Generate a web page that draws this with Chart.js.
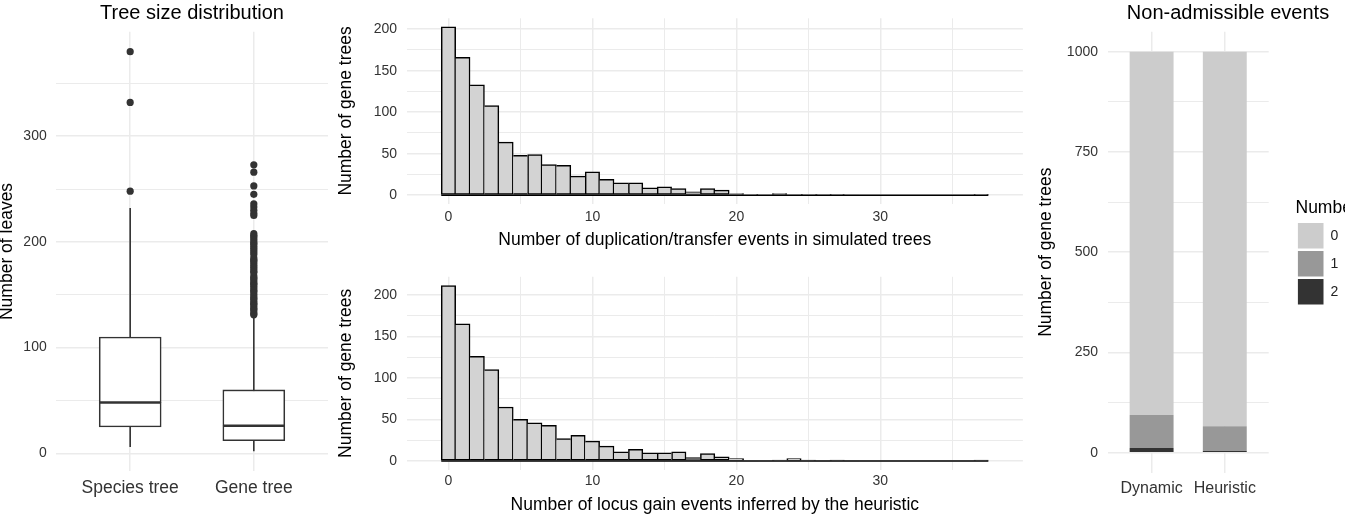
<!DOCTYPE html>
<html>
<head>
<meta charset="utf-8">
<script src="https://cdn.jsdelivr.net/npm/chart.js@4.4.1/dist/chart.umd.min.js"></script>
<style>
html, body { margin: 0; padding: 0; background: #fff; overflow: hidden; width: 1356px; height: 516px; }
.panel { position: absolute; top: 0; }
</style>
</head>
<body>
<div class="panel" style="left:0;width:335px;height:516px"><canvas id="cBox"></canvas></div>
<div class="panel" style="left:336px;width:690px;height:258px"><canvas id="cDup"></canvas></div>
<div class="panel" style="left:336px;top:258px;width:690px;height:258px"><canvas id="cGain"></canvas></div>
<div class="panel" style="left:1030px;width:396px;height:516px"><canvas id="cNa"></canvas></div>
<script>
// tree size distribution, box plot stats
var boxGroups = ['Species tree', 'Gene tree'];
var boxLow = [6, 2];
var boxQ1 = [25, 12];
var boxMed = [48, 26];
var boxQ3 = [110, 60];
var boxHigh = [232, 130];
var speciesOutliers = [248, 332, 380];
var geneOutliers = [131, 132, 134, 136, 137, 139, 141, 142, 144, 146, 147, 149, 151, 153, 154, 156, 158, 160,
  161, 163, 165, 166, 168, 171, 172, 174, 176, 178, 180, 182, 183, 185, 188, 190, 192, 194, 196, 198, 199,
  201, 203, 205, 206, 208, 225, 227, 230, 233, 236, 245, 253, 266, 273];

// histograms, one bin per event count
var eventBins = [0, 1, 2, 3, 4, 5, 6, 7, 8, 9, 10, 11, 12, 13, 14, 15, 16, 17, 18, 19, 20, 21, 22, 23, 24, 25,
  26, 27, 28, 29, 30, 31, 32, 33, 34, 35, 36, 37];
var dupTransferCounts = [203, 166, 133, 108, 64, 48, 49, 37, 36, 23, 28, 19, 15, 15, 9, 10, 8, 4, 8, 6, 2, 1, 0,
  2, 1, 1, 1, 1, 0, 0, 0, 0, 0, 0, 0, 0, 0, 1];
var locusGainCounts = [211, 165, 126, 110, 65, 50, 46, 43, 27, 31, 24, 18, 11, 14, 10, 10, 11, 4, 9, 5, 3, 0, 0,
  1, 3, 1, 0, 1, 0, 0, 0, 0, 0, 0, 0, 0, 0, 1];

// non-admissible events per method
var methods = ['Dynamic', 'Heuristic'];
var nonAdm0 = [906, 934];
var nonAdm1 = [82, 62];
var nonAdm2 = [12, 4];

// tick values
var leafMajor = [0, 100, 200, 300], leafMinor = [50, 150, 250, 350];
var countMajor = [0, 50, 100, 150, 200], countMinor = [25, 75, 125, 175];
var eventMajor = [0, 10, 20, 30], eventMinor = [5, 15, 25, 35];
var treeMajor = [0, 250, 500, 750, 1000], treeMinor = [125, 375, 625, 875];

var INK = '#333333';
var GRID = '#EBEBEB';
Chart.defaults.font.family = "'Liberation Sans', Arial, Helvetica, sans-serif";
Chart.defaults.color = '#333';
Chart.defaults.animation = false;
Chart.defaults.events = [];
Chart.defaults.plugins.tooltip.enabled = false;
Chart.defaults.plugins.legend.display = false;

function expand(lo, hi) {
  var d = (hi - lo) * 0.05;
  return [lo - d, hi + d];
}

function setTicks(major, minor) {
  return function (scale) {
    scale.ticks = major.concat(minor).sort(function (a, b) { return a - b; })
      .map(function (v) { return {value: v}; });
  };
}

function linAxis(o) {
  return {
    type: 'linear',
    position: o.position,
    min: o.min,
    max: o.max,
    offset: false,
    afterBuildTicks: setTicks(o.major, o.minor || []),
    afterFit: function (s) { if (o.horizontal) s.height = o.size; else s.width = o.size; },
    border: {display: false},
    grid: {
      color: GRID, drawTicks: false, offset: false,
      lineWidth: function (c) { return c.tick && o.major.indexOf(c.tick.value) >= 0 ? 1.5 : 1; }
    },
    ticks: {
      autoSkip: false, maxRotation: 0, minRotation: 0, padding: o.tickPad, color: '#333',
      font: {size: o.tickSize || 14},
      callback: o.label || function (v) { return o.major.indexOf(v) >= 0 ? String(v) : ''; }
    },
    title: o.title ? {display: true, text: o.title, color: '#000', font: {size: 17.5}, padding: o.titlePad}
                   : {display: false}
  };
}

// ---- box plot ----
var outlierPoints = speciesOutliers.map(function (v) { return {x: 1, y: v}; })
  .concat(geneOutliers.map(function (v) { return {x: 2, y: v}; }));
function boxSpan(lo, hi) {
  return boxGroups.map(function (g, i) { return {x: i + 1, y: [lo[i], hi[i]]}; });
}
var leafRange = expand(Math.min.apply(null, boxLow), Math.max.apply(null, speciesOutliers.concat(geneOutliers)));

new Chart(document.getElementById('cBox'), {
  type: 'bar',
  data: {datasets: [
    {type: 'scatter', data: outlierPoints, pointRadius: 3.6, backgroundColor: INK, borderWidth: 0, order: 0},
    {data: boxSpan(boxMed, boxQ3), backgroundColor: '#fff', borderColor: INK, borderWidth: 1.6,
     borderSkipped: false, barThickness: 62, grouped: false, order: 1},
    {data: boxSpan(boxQ1, boxMed), backgroundColor: '#fff', borderColor: INK, borderWidth: 1.6,
     borderSkipped: false, barThickness: 62, grouped: false, order: 1},
    {data: boxSpan(boxLow, boxHigh), backgroundColor: INK, borderWidth: 0, barThickness: 1.6,
     inflateAmount: 0, grouped: false, order: 3}
  ]},
  options: {
    responsive: true, maintainAspectRatio: false,
    layout: {padding: {left: 0, right: 7, top: 0, bottom: 0}},
    plugins: {
      title: {display: true, text: 'Tree size distribution', fullSize: false, color: '#000',
              font: {size: 20, weight: 'normal'}, padding: {top: 1, bottom: 6.7}}
    },
    scales: {
      x: linAxis({horizontal: true, position: 'bottom', min: 0.4, max: 2.6, major: [1, 2], size: 44.8,
                  tickPad: 6.3, tickSize: 17.5, label: function (v) { return boxGroups[v - 1]; }}),
      y: linAxis({position: 'left', min: leafRange[0], max: leafRange[1], major: leafMajor, minor: leafMinor,
                  size: 56, tickPad: 9.3, title: 'Number of leaves', titlePad: {top: -3.5, bottom: 0}})
    }
  }
});

// ---- histograms ----
var HIST_LINE = 1.5;
function histBorder(c) {
  if (c.type !== 'data') return HIST_LINE;
  var d = c.dataset.data, i = c.dataIndex, v = d[i].y;
  var prev = i > 0 ? d[i - 1].y : 0;
  var next = i < d.length - 1 ? d[i + 1].y : 0;
  return {top: HIST_LINE, bottom: HIST_LINE, left: v >= prev ? HIST_LINE : 0, right: v > next ? HIST_LINE : 0};
}

function histChart(id, counts, xTitle, L) {
  var yRange = expand(0, Math.max.apply(null, counts));
  new Chart(document.getElementById(id), {
    type: 'bar',
    data: {datasets: [
      {type: 'line', data: [{x: eventBins[0] - 0.5, y: 0}, {x: eventBins[eventBins.length - 1] + 0.5, y: 0}],
       borderColor: '#000', borderWidth: HIST_LINE, pointRadius: 0, order: 0},
      {data: eventBins.map(function (b, i) { return {x: b, y: counts[i]}; }),
       backgroundColor: '#D3D3D3', borderColor: '#000', borderWidth: histBorder, borderSkipped: false,
       barPercentage: 1, categoryPercentage: 1, order: 1}
    ]},
    options: {
      responsive: true, maintainAspectRatio: false,
      layout: {padding: {top: L.padTop, right: 3.1, left: 0, bottom: 0}},
      scales: {
        x: linAxis({horizontal: true, position: 'bottom', min: -2.9, max: 39.9, major: eventMajor, minor: eventMinor,
                    size: L.xSize, tickPad: L.tickPad, tickSize: 14, title: xTitle,
                    titlePad: {top: 0, bottom: L.titlePad}}),
        y: linAxis({position: 'left', min: yRange[0], max: yRange[1], major: countMajor, minor: countMinor,
                    size: 70.7, tickPad: 9.7, title: 'Number of gene trees', titlePad: {top: 0, bottom: 0}})
      }
    }
  });
}

histChart('cDup', dupTransferCounts, 'Number of duplication/transfer events in simulated trees',
  {padTop: 18.3, xSize: 54.4, tickPad: 5, titlePad: 7.5});
histChart('cGain', locusGainCounts, 'Number of locus gain events inferred by the heuristic',
  {padTop: 18.8, xSize: 46.2, tickPad: 2.8, titlePad: 0.5});

// ---- stacked bars ----
function stackSpan(vals) {
  return methods.map(function (m, i) { return {x: i + 1, y: vals[i]}; });
}
var treeRange = expand(0, nonAdm0[0] + nonAdm1[0] + nonAdm2[0]);
var LEGEND_LEFT = 265.5;
var naX = linAxis({horizontal: true, position: 'bottom', min: 0.4, max: 2.6, major: [1, 2], size: 43.25,
                   tickPad: 5.95, tickSize: 16, label: function (v) { return methods[v - 1]; }});
naX.stacked = true;
var naY = linAxis({position: 'left', min: treeRange[0], max: treeRange[1], major: treeMajor, minor: treeMinor,
                   size: 77.7, tickPad: 9.7, title: 'Number of gene trees', titlePad: {top: 5.5, bottom: 0}});
naY.stacked = true;

new Chart(document.getElementById('cNa'), {
  type: 'bar',
  data: {datasets: [
    {label: '2', data: stackSpan(nonAdm2), backgroundColor: '#333333'},
    {label: '1', data: stackSpan(nonAdm1), backgroundColor: '#989898'},
    {label: '0', data: stackSpan(nonAdm0), backgroundColor: '#CCCCCC'}
  ]},
  options: {
    responsive: true, maintainAspectRatio: false,
    datasets: {bar: {barPercentage: 0.6, categoryPercentage: 1, borderWidth: 0}},
    layout: {padding: 0},
    plugins: {
      title: {display: true, text: 'Non-admissible events', color: '#000',
              font: {size: 20, weight: 'normal'}, padding: {top: 1, bottom: 6.65}},
      legend: {
        display: true, position: 'right', align: 'start', reverse: true,
        labels: {boxWidth: 25.6, boxHeight: 25.6, padding: 2.4, color: '#222', font: {size: 14}},
        title: {display: true, text: 'Number', position: 'start', color: '#000', font: {size: 17.5},
                padding: {top: 199.55, bottom: 0}}
      }
    },
    scales: {
      x: naX,
      y: naY,
      gap: {type: 'linear', axis: 'y', position: 'right', weight: 0, display: true,
            ticks: {display: false}, grid: {display: false}, border: {display: false},
            afterFit: function (s) { s.width = 26.8; }},
      edge: {type: 'linear', axis: 'y', position: 'right', weight: 2000, display: true,
             ticks: {display: false}, grid: {display: false}, border: {display: false},
             afterFit: function (s) {
               var lw = s.chart.legend ? s.chart.legend.width : 0;
               s.width = Math.max(0, s.chart.width - LEGEND_LEFT - lw);
             }}
    }
  }
});
</script>
</body>
</html>
